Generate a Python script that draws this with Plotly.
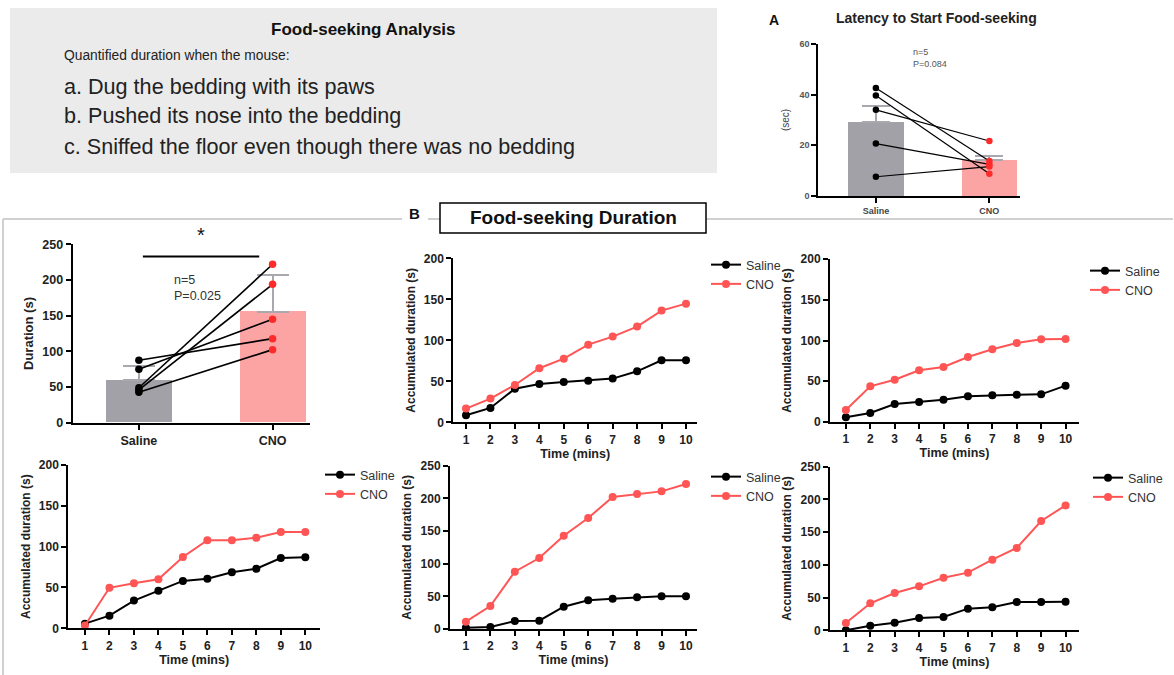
import plotly.graph_objects as go

W, H = 1174, 675
FONT = "Liberation Sans, Arial, sans-serif"

# ---------------- data ----------------
groups = ["Saline", "CNO"]

# Panel A: latency to start food-seeking (sec)
latency_mean = [29.4, 14.1]
latency_err = [6.2, 1.8]
latency_saline = [42.6, 39.7, 34.0, 20.7, 7.6]
latency_cno = [13.8, 8.8, 21.7, 12.5, 11.6]

# Left bar chart: food-seeking duration (s)
duration_mean = [59.5, 155.7]
duration_err = [20.5, 51.0]
duration_saline = [87.5, 74.8, 49.0, 45.9, 42.6]
duration_cno = [117.8, 145.0, 222.0, 194.0, 102.4]

# Accumulated duration per mouse
minutes = [1, 2, 3, 4, 5, 6, 7, 8, 9, 10]
m1_saline = [8.5, 17.5, 41.0, 46.7, 49.2, 50.8, 53.3, 62.2, 75.6, 75.6]
m1_cno = [16.7, 28.9, 45.5, 65.9, 77.6, 94.7, 104.5, 116.7, 136.2, 144.7]
m2_saline = [5.7, 11.0, 22.0, 24.5, 27.4, 31.5, 32.7, 33.5, 33.9, 44.6]
m2_cno = [14.7, 43.8, 51.9, 63.4, 67.5, 79.8, 89.2, 96.9, 101.4, 101.8]
m3_saline = [5.7, 15.5, 33.9, 46.1, 58.0, 60.8, 68.6, 73.0, 86.1, 86.9]
m3_cno = [3.5, 49.6, 55.1, 60.0, 87.3, 107.8, 107.8, 111.0, 118.0, 118.0]
m4_saline = [2.0, 3.0, 12.2, 12.8, 34.2, 43.9, 46.4, 48.5, 50.0, 50.0]
m4_cno = [11.2, 35.2, 87.8, 108.7, 142.9, 169.9, 202.0, 206.6, 210.7, 221.9]
m5_saline = [0.0, 7.1, 11.7, 18.8, 20.4, 33.1, 35.1, 43.3, 43.3, 43.8]
m5_cno = [11.2, 41.2, 57.0, 67.2, 80.4, 88.1, 107.9, 125.8, 167.0, 190.9]

GRAY_BAR = "#a1a1a7"
PINK_BAR = "#fca4a4"
RED = "#ff2a2a"
RED_LINE = "#ff5555"


def px(x):
    return x / W


def py(y):
    return 1 - y / H


def xdom(a, b):
    return [px(a), px(b)]


def ydom(top, bottom):
    return [py(bottom), py(top)]


fig = go.Figure()

# ---------- Panel A bars ----------
fig.add_trace(go.Bar(
    x=[0, 1], y=latency_mean, width=0.49,
    marker=dict(color=[GRAY_BAR, PINK_BAR], line=dict(width=0)),
    error_y=dict(type="data", symmetric=False, array=latency_err, arrayminus=[0, 0],
                 color="#a8a8ae", thickness=2, width=14),
    xaxis="x", yaxis="y", showlegend=False,
))
for s, c in zip(latency_saline, latency_cno):
    fig.add_trace(go.Scatter(
        x=[0, 1], y=[s, c], mode="lines+markers",
        line=dict(color="black", width=1.2),
        marker=dict(color=["black", RED], size=6.5),
        xaxis="x", yaxis="y", showlegend=False,
    ))

# ---------- left bar chart ----------
fig.add_trace(go.Bar(
    x=[0, 1], y=duration_mean, width=0.49,
    marker=dict(color=[GRAY_BAR, PINK_BAR], line=dict(width=0)),
    error_y=dict(type="data", symmetric=False, array=duration_err, arrayminus=[0, 0],
                 color="#a8a8ae", thickness=2, width=16),
    xaxis="x2", yaxis="y2", showlegend=False,
))
for s, c in zip(duration_saline, duration_cno):
    fig.add_trace(go.Scatter(
        x=[0, 1], y=[s, c], mode="lines+markers",
        line=dict(color="black", width=1.6),
        marker=dict(color=["black", RED], size=7.5),
        xaxis="x2", yaxis="y2", showlegend=False,
    ))

# ---------- line charts ----------
series = [
    (m1_saline, m1_cno, "x3", "y3", "legend"),
    (m2_saline, m2_cno, "x4", "y4", "legend2"),
    (m3_saline, m3_cno, "x5", "y5", "legend3"),
    (m4_saline, m4_cno, "x6", "y6", "legend4"),
    (m5_saline, m5_cno, "x7", "y7", "legend5"),
]
for sal, cno, xa, ya, lg in series:
    fig.add_trace(go.Scatter(
        x=minutes, y=sal, mode="lines+markers", name="Saline",
        line=dict(color="black", width=2), marker=dict(color="black", size=8),
        xaxis=xa, yaxis=ya, legend=lg,
    ))
    fig.add_trace(go.Scatter(
        x=minutes, y=cno, mode="lines+markers", name="CNO",
        line=dict(color=RED_LINE, width=2), marker=dict(color=RED_LINE, size=8),
        xaxis=xa, yaxis=ya, legend=lg,
    ))


def xline(domain, rng, anchor, title=None, tickvals=None, ticktext=None, size=12, color="#222", lw=2):
    d = dict(domain=domain, range=rng, anchor=anchor, showline=True, linecolor="black",
             linewidth=lw, ticks="outside", ticklen=5, tickwidth=lw, tickcolor="black",
             showgrid=False, zeroline=False, fixedrange=True, automargin=False,
             tickfont=dict(family=FONT, size=size, color=color, weight="bold"))
    if tickvals is not None:
        d.update(tickmode="array", tickvals=tickvals, ticktext=ticktext)
    if title:
        d["title"] = dict(text=title, font=dict(family=FONT, size=12.5, color="#222", weight="bold"), standoff=3)
    return d


def yline(domain, rng, anchor, dtick, title=None, size=12, color="#222", lw=2, standoff=6, tsize=12):
    d = dict(domain=domain, range=rng, anchor=anchor, showline=True, linecolor="black",
             linewidth=lw, ticks="outside", ticklen=5, tickwidth=lw, tickcolor="black",
             showgrid=False, zeroline=False, fixedrange=True, dtick=dtick, tick0=0, automargin=False,
             tickfont=dict(family=FONT, size=size, color=color, weight="bold"))
    if title:
        d["title"] = dict(text=title, font=dict(family=FONT, size=tsize, color="#222", weight="bold"),
                          standoff=standoff)
    return d


layout = dict(
    width=W, height=H, margin=dict(l=0, r=0, t=0, b=0, pad=0, autoexpand=False),
    paper_bgcolor="white", plot_bgcolor="rgba(0,0,0,0)",
    bargap=0, font=dict(family=FONT),
)

# Panel A
layout["xaxis"] = xline(xdom(818, 1020), [-0.51, 1.27], "y", tickvals=[0, 1], ticktext=groups,
                        size=9, color="#444", lw=1.5)
layout["yaxis"] = yline(ydom(44, 196), [0, 60], "x", 20, title="(sec)", size=9, color="#555",
                        lw=1.5, standoff=8, tsize=10)
layout["yaxis"]["title"]["font"]["weight"] = "normal"
layout["yaxis"]["title"]["font"]["color"] = "#444"

# Left bar chart
layout["xaxis2"] = xline(xdom(72.7, 310), [-0.495, 1.28], "y2", tickvals=[0, 1], ticktext=groups, size=12.5)
layout["yaxis2"] = yline(ydom(244.3, 422.7), [0, 250], "x2", 50, title="Duration (s)", size=12.5,
                         standoff=6, tsize=13)

line_specs = [
    ("xaxis3", "yaxis3", "x3", "y3", (453.3, 697), (258.3, 422.3), [0.48, 10.45], 200, "legend", (706, 250)),
    ("xaxis4", "yaxis4", "x4", "y4", (830, 1079), (259, 422), [0.35, 10.55], 200, "legend2", (1085, 256)),
    ("xaxis5", "yaxis5", "x5", "y5", (68.3, 320), (465, 628.3), [0.32, 10.6], 200, "legend3", (320, 460)),
    ("xaxis6", "yaxis6", "x6", "y6", (450, 697), (465.7, 629), [0.35, 10.45], 250, "legend4", (706, 462)),
    ("xaxis7", "yaxis7", "x7", "y7", (830, 1079), (466.7, 630.3), [0.35, 10.55], 250, "legend5", (1088, 463)),
]
for xk, yk, xa, ya, xd, yd, xr, ymax, lg, (lx, ly) in line_specs:
    layout[xk] = xline(xdom(*xd), xr, ya, title="Time (mins)", tickvals=minutes,
                       ticktext=[str(m) for m in minutes])
    layout[yk] = yline(ydom(*yd), [0, ymax], xa, 50, title="Accumulated duration (s)", standoff=6)
    layout[lg] = dict(x=px(lx), y=py(ly), xanchor="left", yanchor="top",
                      bgcolor="rgba(0,0,0,0)", borderwidth=0, itemwidth=30,
                      font=dict(family=FONT, size=12.5, color="#333"), tracegroupgap=0)

fig.update_layout(**layout)

# ---------- shapes ----------
shapes = [
    dict(type="rect", xref="paper", yref="paper", x0=px(10), x1=px(717), y0=py(173), y1=py(8),
         fillcolor="#ebebeb", line=dict(width=0), layer="below"),
    dict(type="line", xref="paper", yref="paper", x0=px(3), x1=px(402), y0=py(219), y1=py(219),
         line=dict(color="#d0d0d0", width=2)),
    dict(type="line", xref="paper", yref="paper", x0=px(428), x1=px(440), y0=py(219), y1=py(219),
         line=dict(color="#d0d0d0", width=2)),
    dict(type="line", xref="paper", yref="paper", x0=px(706), x1=px(1173), y0=py(219), y1=py(219),
         line=dict(color="#d0d0d0", width=2)),
    dict(type="line", xref="paper", yref="paper", x0=px(3), x1=px(3), y0=py(219), y1=py(675),
         line=dict(color="#d0d0d0", width=2)),
    dict(type="rect", xref="paper", yref="paper", x0=px(440), x1=px(706), y0=py(233), y1=py(203),
         fillcolor="white", line=dict(color="black", width=1.5)),
    dict(type="line", xref="x2", yref="y2", x0=0.03, x1=0.9, y0=233, y1=233,
         line=dict(color="black", width=2)),
]
fig.update_layout(shapes=shapes)


def ann(text, x, y, size, bold=False, color="#222", xanchor="center", yanchor="middle", align="center"):
    return dict(text=text, x=px(x), y=py(y), xref="paper", yref="paper", showarrow=False,
                xanchor=xanchor, yanchor=yanchor, align=align,
                font=dict(family=FONT, size=size, color=color, weight="bold" if bold else "normal"))


annotations = [
    ann("Food-seeking Analysis", 363, 30, 17, bold=True, color="#111"),
    ann("Quantified duration when the mouse:", 62, 56, 13.8, color="#222", xanchor="left"),
    ann("a. Dug the bedding with its paws", 62, 86, 21.6, color="#222", xanchor="left"),
    ann("b. Pushed its nose into the bedding", 62, 116, 21.6, color="#222", xanchor="left"),
    ann("c. Sniffed the floor even though there was no bedding", 62, 147, 21.6, color="#222", xanchor="left"),
    ann("A", 774, 20, 14, bold=True, color="#111"),
    ann("Latency to Start Food-seeking", 936, 18, 14, bold=True, color="#222"),
    ann("n=5<br>P=0.084", 911, 58, 9, color="#555", xanchor="left", align="left"),
    ann("B", 414, 214, 15, bold=True, color="#111"),
    ann("Food-seeking Duration", 573, 218, 19, bold=True, color="#111"),
    ann("*", 201, 235, 20, color="#111"),
    ann("n=5<br>P=0.025", 172, 288, 12.5, color="#333", xanchor="left", align="left"),
]
fig.update_layout(annotations=annotations)

POST = (
    "document.documentElement.style.margin='0';document.body.style.margin='0';"
    "document.body.style.padding='0';document.documentElement.style.overflow='hidden';"
    "var gd=document.getElementById('{plot_id}');"
    "gd.style.position='fixed';gd.style.left='0px';gd.style.top='0px';"
)

fig.write_html("out.html", config={"displayModeBar": False}, post_script=POST)
